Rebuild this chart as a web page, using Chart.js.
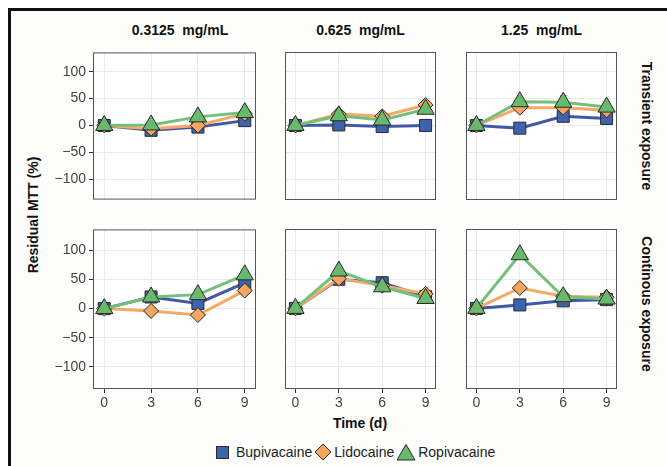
<!DOCTYPE html>
<html>
<head>
<meta charset="utf-8">
<script src="https://cdn.jsdelivr.net/npm/chart.js@4.4.1/dist/chart.umd.min.js"></script>
<style>
  body { margin: 0; background: #fff; font-family: "Liberation Sans", Arial, sans-serif; }
  #wrap { position: relative; width: 667px; height: 466px; overflow: hidden; }
  #frame { position: absolute; left: 8px; top: 8px; width: 700px; height: 500px;
           border-left: 3px solid #111; border-top: 3px solid #111; background: #fdfdfb; }
  canvas { position: absolute; }
  .lbl { position: absolute; font-weight: bold; font-size: 14px; color: #111;
         white-space: pre; transform: translate(-50%, -50%); }
  .rot-cw { transform: translate(-50%, -50%) rotate(90deg); }
  .rot-ccw { transform: translate(-50%, -50%) rotate(-90deg); }
  #legend { position: absolute; left: 215px; top: 443px; display: flex; align-items: center;
            font-size: 14px; color: #222; }
  #legend span { margin-right: 2px; }
  #legend svg { margin-right: 2px; }
</style>
</head>
<body>
<div id="wrap">
  <div id="frame"></div>
  <div id="legend"></div>
</div>
<script>
// DOM helpers
const $ = (id) => document.getElementById(id);

// Data
const times = [0, 3, 6, 9];
const yTicks = [-100, -50, 0, 50, 100];
const concentrations = ["0.3125  mg/mL", "0.625  mg/mL", "1.25  mg/mL"];
const exposures = ["Transient exposure", "Continous exposure"];
const drugs = ["Bupivacaine", "Lidocaine", "Ropivacaine"];

// one row per concentration, values at times 0,3,6,9
const bupTransient = [[0, -9, -3, 9], [0, 1, -2, 0], [0, -5, 17, 13]];
const lidTransient = [[0, -6, 0, 22], [0, 21, 17, 38], [0, 33, 33, 28]];
const ropTransient = [[0, 1, 16, 24], [0, 18, 10, 30], [0, 44, 43, 34]];
const bupContinuous = [[0, 20, 9, 44], [0, 50, 44, 20], [0, 6, 13, 15]];
const lidContinuous = [[0, -4, -11, 31], [0, 51, 39, 25], [0, 35, 21, 19]];
const ropContinuous = [[0, 20, 24, 58], [0, 64, 37, 17], [0, 92, 20, 16]];

// error bar half-heights
const bupTransientErr = [[2, 5, 4, 6], [2, 6, 5, 10], [2, 9, 4, 4]];
const lidTransientErr = [[2, 4, 3, 5], [2, 4, 4, 5], [2, 4, 4, 4]];
const ropTransientErr = [[2, 4, 4, 6], [2, 5, 4, 6], [2, 5, 12, 4]];
const bupContinuousErr = [[2, 5, 4, 6], [2, 9, 5, 4], [2, 9, 4, 3]];
const lidContinuousErr = [[2, 3, 3, 4], [2, 4, 4, 4], [2, 4, 3, 3]];
const ropContinuousErr = [[2, 4, 4, 7], [2, 5, 6, 3], [2, 4, 3, 3]];

const rows = [
  [bupTransient, lidTransient, ropTransient],
  [bupContinuous, lidContinuous, ropContinuous]
];
const rowErrs = [
  [bupTransientErr, lidTransientErr, ropTransientErr],
  [bupContinuousErr, lidContinuousErr, ropContinuousErr]
];

// Styles
const lineColors = ["#4159a5", "#f4aa66", "#74c07b"];
const fillColors = ["#3d63ae", "#f4a55e", "#68b96c"];
const shapes = ["rect", "rectRot", "triangle"];
const radii = [8.5, 7.5, 10];
const orders = [3, 2, 1];

// Panel geometry (plot areas)
const colLeft = [93, 274, 455], colRight = [267, 447, 628];
const rowTop = [41, 218], rowBottom = [211, 389];
const yAxisW = 45, xAxisH = 24;
const tickFont = { family: "Liberation Sans", size: 14 };

const framePlugin = {
  id: "frame",
  beforeDraw(chart) {
    const { ctx, chartArea: a } = chart;
    ctx.save();
    ctx.fillStyle = "#ffffff";
    ctx.fillRect(a.left, a.top, a.right - a.left, a.bottom - a.top);
    ctx.restore();
  },
  afterDraw(chart) {
    const { ctx, chartArea: a } = chart;
    ctx.save();
    ctx.strokeStyle = "#555";
    ctx.lineWidth = 1;
    ctx.strokeRect(a.left + 0.5, a.top + 0.5, a.right - a.left - 1, a.bottom - a.top - 1);
    ctx.restore();
  }
};

const errPlugin = {
  id: "err",
  beforeDatasetsDraw(chart) {
    const { ctx, scales: { x, y } } = chart;
    ctx.save();
    ctx.strokeStyle = "#333";
    ctx.lineWidth = 1;
    chart.data.datasets.forEach(ds => {
      ds.data.forEach((p, k) => {
        const e = ds.err[k];
        const px = Math.round(x.getPixelForValue(p.x)) + 0.5;
        const y1 = y.getPixelForValue(p.y + e), y2 = y.getPixelForValue(p.y - e);
        ctx.beginPath();
        ctx.moveTo(px, y1); ctx.lineTo(px, y2);
        ctx.moveTo(px - 3, y1); ctx.lineTo(px + 3, y1);
        ctx.moveTo(px - 3, y2); ctx.lineTo(px + 3, y2);
        ctx.stroke();
      });
    });
    ctx.restore();
  }
};

const wrap = $("wrap");

const makePanel = (r, c) => {
  const showY = c === 0, showX = r === 1;
  const left = colLeft[c] - (showY ? yAxisW : 0);
  const top = rowTop[r];
  const w = colRight[c] - left;
  const h = rowBottom[r] - top + (showX ? xAxisH : 0);
  const cv = document.createElement("canvas");
  cv.width = w; cv.height = h;
  cv.style.left = left + "px"; cv.style.top = top + "px";
  wrap.appendChild(cv);

  const datasets = drugs.map((d, i) => ({
    label: d,
    data: times.map((t, k) => ({ x: t, y: rows[r][i][c][k] })),
    err: rowErrs[r][i][c],
    borderColor: lineColors[i],
    backgroundColor: fillColors[i],
    borderWidth: 3,
    pointStyle: shapes[i],
    pointRadius: radii[i],
    pointBackgroundColor: fillColors[i],
    pointBorderColor: "#2a2a2a",
    pointBorderWidth: 1,
    tension: 0,
    clip: false,
    order: orders[i]
  }));

  new Chart(cv, {
    type: "line",
    data: { datasets },
    options: {
      responsive: false,
      animation: false,
      events: [],
      layout: { padding: 0 },
      plugins: { legend: { display: false }, tooltip: { enabled: false } },
      scales: {
        x: {
          type: "linear", min: -0.72, max: 9.72,
          afterBuildTicks: s => { s.ticks = times.map(v => ({ value: v })); },
          afterFit: s => { s.height = showX ? xAxisH : 0; },
          grid: { color: "#ebebeb", drawTicks: showX, tickLength: 4, tickColor: "#333" },
          border: { display: false },
          ticks: { display: showX, font: tickFont, color: "#444", padding: 2, maxRotation: 0, autoSkip: false }
        },
        y: {
          min: -138, max: 136,
          afterBuildTicks: s => { s.ticks = yTicks.map(v => ({ value: v })); },
          afterFit: s => { s.width = showY ? yAxisW : 0; },
          grid: { color: "#ebebeb", drawTicks: showY, tickLength: 4, tickColor: "#333" },
          border: { display: false },
          ticks: {
            display: showY, font: tickFont, color: "#444", padding: 3, autoSkip: false,
            callback: v => (v < 0 ? "\u2212" + Math.abs(v) : String(v))
          }
        }
      }
    },
    plugins: [framePlugin, errPlugin]
  });
};

for (let r = 0; r < 2; r++) for (let c = 0; c < 3; c++) makePanel(r, c);

// Text labels
const addLabel = (text, x, y, cls) => {
  const el = document.createElement("div");
  el.className = "lbl" + (cls ? " " + cls : "");
  el.textContent = text;
  el.style.left = x + "px"; el.style.top = y + "px";
  wrap.appendChild(el);
};
concentrations.forEach((t, c) => addLabel(t, (colLeft[c] + colRight[c]) / 2, 30));
exposures.forEach((t, r) => addLabel(t, 647, (rowTop[r] + rowBottom[r]) / 2, "rot-cw"));
addLabel("Residual MTT (%)", 33, 215, "rot-ccw");
addLabel("Time (d)", 360, 423);

// Legend
const legendSvg = [
  '<svg width="15" height="15"><rect x="1.5" y="1.5" width="12" height="12" fill="' + fillColors[0] + '" stroke="#2a2a2a"/></svg>',
  '<svg width="18" height="18"><polygon points="9,1 17,9 9,17 1,9" fill="' + fillColors[1] + '" stroke="#2a2a2a"/></svg>',
  '<svg width="20" height="18"><polygon points="10,1.5 19,17 1,17" fill="' + fillColors[2] + '" stroke="#2a2a2a"/></svg>'
];
$("legend").innerHTML = drugs.map((d, i) =>
  legendSvg[i] + '<span' + (i === 0 ? ' style="margin-left:4px"' : '') + '>' + d + '</span>'
).join("");
</script>
</body>
</html>
